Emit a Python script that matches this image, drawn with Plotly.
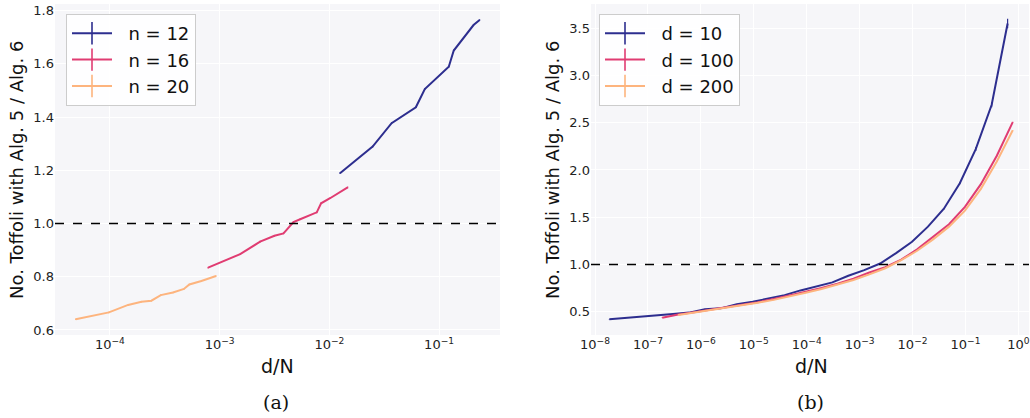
import plotly.graph_objects as go

# ---------------- data: panel (a) ----------------
n12_x = [0.0125, 0.0248, 0.0369, 0.0614, 0.0741, 0.1225, 0.136, 0.206, 0.234]
n12_y = [1.189, 1.289, 1.377, 1.437, 1.505, 1.589, 1.650, 1.746, 1.765]

n16_x = [7.85e-4, 1.54e-3, 2.34e-3, 3.16e-3, 3.82e-3, 4.71e-3, 5.42e-3, 7.68e-3, 8.41e-3, 1.015e-2, 1.469e-2]
n16_y = [0.834, 0.885, 0.932, 0.954, 0.963, 1.005, 1.016, 1.042, 1.076, 1.095, 1.136]

n20_x = [4.88e-5, 9.8e-5, 1.467e-4, 1.94e-4, 2.39e-4, 2.91e-4, 3.76e-4, 4.73e-4, 5.3e-4, 6.82e-4, 9.27e-4]
n20_y = [0.640, 0.666, 0.694, 0.706, 0.710, 0.731, 0.741, 0.754, 0.771, 0.784, 0.803]

# ---------------- data: panel (b) ----------------
d10_x = [1.863e-8, 3.725e-8, 7.45e-8, 1.49e-7, 2.98e-7, 5.96e-7, 1.192e-6, 2.384e-6, 4.768e-6,
         9.537e-6, 1.907e-5, 3.815e-5, 7.629e-5, 1.526e-4, 3.052e-4, 6.104e-4, 1.2207e-3,
         2.441e-3, 4.883e-3, 9.766e-3, 1.953e-2, 3.906e-2, 7.8125e-2, 0.15625, 0.3125, 0.625]
d10_y = [0.420, 0.432, 0.445, 0.460, 0.475, 0.490, 0.525, 0.535, 0.580,
         0.605, 0.640, 0.675, 0.725, 0.770, 0.810, 0.880, 0.940,
         1.010, 1.120, 1.240, 1.400, 1.590, 1.860, 2.220, 2.690, 3.550]
d10_err = [0.002] * 20 + [0.005, 0.008, 0.01, 0.02, 0.025, 0.05]

d100_x = [1.863e-7, 3.725e-7, 7.45e-7, 1.49e-6, 2.98e-6, 5.96e-6, 1.192e-5, 2.384e-5, 4.768e-5,
          9.537e-5, 1.907e-4, 3.815e-4, 7.629e-4, 1.526e-3, 3.052e-3, 6.104e-3, 1.2207e-2,
          2.441e-2, 4.883e-2, 9.766e-2, 0.1953, 0.390625, 0.78125]
d100_y = [0.436, 0.470, 0.495, 0.520, 0.545, 0.570, 0.600, 0.635, 0.670,
          0.710, 0.750, 0.795, 0.850, 0.915, 0.970, 1.050, 1.160,
          1.290, 1.425, 1.610, 1.850, 2.150, 2.506]

d200_x = [3.725e-7, 7.45e-7, 1.49e-6, 2.98e-6, 5.96e-6, 1.192e-5, 2.384e-5, 4.768e-5,
          9.537e-5, 1.907e-4, 3.815e-4, 7.629e-4, 1.526e-3, 3.052e-3, 6.104e-3, 1.2207e-2,
          2.441e-2, 4.883e-2, 9.766e-2, 0.1953, 0.390625, 0.78125]
d200_y = [0.465, 0.490, 0.515, 0.540, 0.565, 0.595, 0.625, 0.660,
          0.700, 0.740, 0.785, 0.835, 0.895, 0.960, 1.045, 1.145,
          1.265, 1.400, 1.570, 1.800, 2.090, 2.420]

left_labels = ["n = 12", "n = 16", "n = 20"]
right_labels = ["d = 10", "d = 100", "d = 200"]
colors = ["#2D2E8F", "#E03C72", "#FDB47E"]

left_xticks = [1e-4, 1e-3, 1e-2, 1e-1]
left_xtext = ["10<sup>−4</sup>", "10<sup>−3</sup>", "10<sup>−2</sup>", "10<sup>−1</sup>"]
right_xticks = [1e-8, 1e-7, 1e-6, 1e-5, 1e-4, 1e-3, 1e-2, 1e-1, 1e0]
right_xtext = ["10<sup>−8</sup>", "10<sup>−7</sup>", "10<sup>−6</sup>", "10<sup>−5</sup>",
               "10<sup>−4</sup>", "10<sup>−3</sup>", "10<sup>−2</sup>", "10<sup>−1</sup>",
               "10<sup>0</sup>"]
left_yticks = [0.6, 0.8, 1.0, 1.2, 1.4, 1.6, 1.8]
right_yticks = [0.5, 1.0, 1.5, 2.0, 2.5, 3.0, 3.5]

W, H = 1030, 418
FONT = "DejaVu Sans"
NB = "\u00a0"

fig = go.Figure()

left_series = [(n12_x, n12_y), (n16_x, n16_y), (n20_x, n20_y)]
for (xs, ys), c, lab in zip(left_series, colors, left_labels):
    fig.add_trace(go.Scatter(
        x=xs, y=ys, mode="lines", line=dict(color=c, width=2),
        error_y=dict(type="constant", value=0.003, color=c, thickness=1.2, width=0),
        xaxis="x", yaxis="y", showlegend=False, hoverinfo="x+y"))
    fig.add_trace(go.Scatter(
        x=[None], y=[None], mode="lines+markers", name=NB * 2 + lab,
        line=dict(color=c, width=2),
        marker=dict(symbol="line-ns-open", size=18, color=c, line=dict(color=c, width=1.6)),
        xaxis="x", yaxis="y", legend="legend"))

right_series = [(d10_x, d10_y, d10_err), (d100_x, d100_y, None), (d200_x, d200_y, None)]
for (xs, ys, err), c, lab in zip(right_series, colors, right_labels):
    ey = dict(type="data", array=err, color=c, thickness=1.2, width=0) if err else \
        dict(type="constant", value=0.004, color=c, thickness=1.2, width=0)
    fig.add_trace(go.Scatter(
        x=xs, y=ys, mode="lines", line=dict(color=c, width=2),
        error_y=ey, xaxis="x2", yaxis="y2", showlegend=False, hoverinfo="x+y"))
    fig.add_trace(go.Scatter(
        x=[None], y=[None], mode="lines+markers", name=NB * 2 + lab,
        line=dict(color=c, width=2),
        marker=dict(symbol="line-ns-open", size=18, color=c, line=dict(color=c, width=1.6)),
        xaxis="x2", yaxis="y2", legend="legend2"))

def px_x(p):
    return p / W

def px_y(p):
    return 1 - p / H

ydom = [px_y(335), px_y(4)]
axis_common = dict(showgrid=True, gridcolor="white", gridwidth=1, zeroline=False,
                   showline=False, ticks="", automargin=False,
                   tickfont=dict(family=FONT, size=13, color="#222"))

leg_common = dict(xanchor="left", yanchor="top",
                  bgcolor="rgba(255,255,255,0.9)", bordercolor="#CCCCCC", borderwidth=1,
                  font=dict(family=FONT, size=18, color="#111"), tracegroupgap=0,
                  itemsizing="trace", itemwidth=40)

def ann(text, x, y, size, family=FONT, angle=0):
    return dict(text=text, x=px_x(x), y=px_y(y), xref="paper", yref="paper",
                xanchor="center", yanchor="middle", textangle=angle, showarrow=False,
                font=dict(family=family, size=size, color="#111"))

fig.update_layout(
    width=W, height=H,
    margin=dict(l=0, r=0, t=0, b=0, autoexpand=False),
    paper_bgcolor="white", plot_bgcolor="#F6F6F9",
    font=dict(family=FONT, color="#111"),
    xaxis=dict(domain=[px_x(55), px_x(500)], type="log", range=[-4.5, -0.445],
               tickvals=left_xticks, ticktext=left_xtext, anchor="y", **axis_common),
    yaxis=dict(domain=ydom, range=[0.581, 1.825], tickvals=left_yticks,
               tickformat=".1f", anchor="x", **axis_common),
    xaxis2=dict(domain=[px_x(591), px_x(1029)], type="log", range=[-8.076, 0.2],
                tickvals=right_xticks, ticktext=right_xtext, anchor="y2", **axis_common),
    yaxis2=dict(domain=ydom, range=[0.253, 3.757], tickvals=right_yticks,
                tickformat=".1f", anchor="x2", **axis_common),
    legend=dict(x=px_x(66), y=px_y(14), **leg_common),
    legend2=dict(x=px_x(599), y=px_y(14), **leg_common),
    shapes=[
        dict(type="line", xref="x domain", yref="y", x0=0, x1=1, y0=1.0, y1=1.0,
             line=dict(color="black", width=1.6, dash="dash")),
        dict(type="line", xref="x2 domain", yref="y2", x0=0, x1=1, y0=1.0, y1=1.0,
             line=dict(color="black", width=1.6, dash="dash")),
    ],
    annotations=[
        ann("d/N", 277, 366, 19),
        ann("d/N", 811, 366, 19),
        ann("No. Toffoli with Alg. 5 / Alg. 6", 16, 170, 18, angle=-90),
        ann("No. Toffoli with Alg. 5 / Alg. 6", 552, 170, 18, angle=-90),
        ann("(a)", 276, 402, 19, family="DejaVu Serif"),
        ann("(b)", 810, 402, 19, family="DejaVu Serif"),
    ],
)

fig.write_html("out.html", config={"displayModeBar": False},
               post_script="document.body.style.margin='0';")
